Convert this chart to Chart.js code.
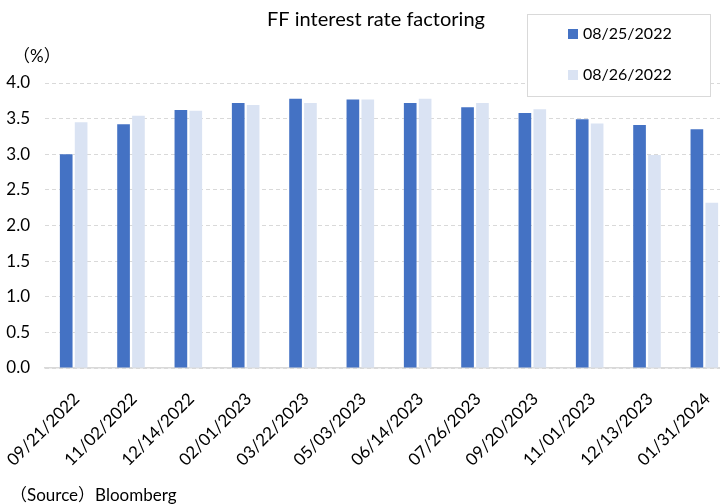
<!DOCTYPE html>
<html>
<head>
<meta charset="utf-8">
<script src="https://cdn.jsdelivr.net/npm/chart.js@4.4.1/dist/chart.umd.min.js"></script>
<style>
html,body{margin:0;padding:0;width:720px;height:504px;overflow:hidden;background:#fff;}
canvas{display:block;}
</style>
</head>
<body>
<canvas id="c" width="733" height="504"></canvas>
<script>
const categories = ["09/21/2022","11/02/2022","12/14/2022","02/01/2023","03/22/2023","05/03/2023","06/14/2023","07/26/2023","09/20/2023","11/01/2023","12/13/2023","01/31/2024"];
const series1Label = "08/25/2022";
const series2Label = "08/26/2022";
const series1 = [3.00, 3.42, 3.62, 3.72, 3.78, 3.77, 3.72, 3.66, 3.58, 3.49, 3.41, 3.35];
const series2 = [3.45, 3.54, 3.61, 3.69, 3.72, 3.77, 3.78, 3.72, 3.63, 3.43, 2.99, 2.32];
const yTicks = [0, 0.5, 1.0, 1.5, 2.0, 2.5, 3.0, 3.5, 4.0];
const titleText = "FF interest rate factoring";
const unitText = "（%）";
const sourceText = "（Source）Bloomberg";

const FONT = "Lato, 'Noto Sans CJK JP', sans-serif";

const decor = {
  id: 'decor',
  afterDraw(chart) {
    const ctx = chart.ctx;
    ctx.save();
    ctx.fillStyle = '#000';
    ctx.textBaseline = 'middle';
    ctx.textAlign = 'center';
    ctx.font = "20px " + FONT;
    ctx.fillText(titleText, 376, 20);
    ctx.textAlign = 'left';
    ctx.font = "17px " + FONT;
    ctx.fillText(unitText, 13, 57);
    ctx.font = "17px " + FONT;
    ctx.fillText(sourceText, 10, 496);
    // legend box
    ctx.strokeStyle = '#d9d9d9';
    ctx.lineWidth = 1;
    ctx.fillStyle = '#fff';
    ctx.fillRect(527.5, 14.5, 183, 82);
    ctx.strokeRect(527.5, 14.5, 183, 82);
    const ds = chart.data.datasets;
    const ys = [34, 75];
    ctx.font = "16px " + FONT;
    ds.forEach((d, i) => {
      ctx.fillStyle = d.backgroundColor;
      ctx.fillRect(568, ys[i] - 5, 10, 10);
      ctx.fillStyle = '#000';
      ctx.fillText(d.label, 583, ys[i]);
    });
    ctx.restore();
  }
};

new Chart(document.getElementById('c'), {
  type: 'bar',
  data: {
    labels: categories,
    datasets: [
      { label: series1Label, data: series1, backgroundColor: '#4472C4', borderWidth: 0 },
      { label: series2Label, data: series2, backgroundColor: '#DAE3F3', borderWidth: 0 }
    ]
  },
  options: {
    responsive: false,
    animation: false,
    devicePixelRatio: 1,
    layout: { padding: { top: 83, bottom: 36, left: 0, right: 0 } },
    datasets: { bar: { categoryPercentage: 0.52, barPercentage: 0.85 } },
    plugins: { legend: { display: false }, title: { display: false }, tooltip: { enabled: false } },
    scales: {
      x: {
        grid: { display: false, drawTicks: false },
        border: { display: true, color: '#d9d9d9', width: 1.5 },
        ticks: {
          color: '#000', font: { family: FONT, size: 17 },
          maxRotation: 45, minRotation: 45, padding: 21, labelOffset: 3, autoSkip: false
        },
        afterFit(s) { s.height = 100; s.paddingLeft = 0; s.paddingRight = 0; }
      },
      y: {
        min: 0, max: 4,
        afterBuildTicks(s) { s.ticks = yTicks.map(v => ({ value: v })); },
        grid: { color: '#d9d9d9', lineWidth: 1, drawTicks: false, borderDash: [4, 3] },
        border: { display: false, dash: [4, 3] },
        ticks: {
          color: '#000', font: { family: FONT, size: 17 }, padding: 15,
          callback: v => Number(v).toFixed(1)
        },
        afterFit(s) { s.width = 45; s.paddingTop = 0; s.paddingBottom = 0; }
      }
    }
  },
  plugins: [decor]
});
</script>
</body>
</html>
